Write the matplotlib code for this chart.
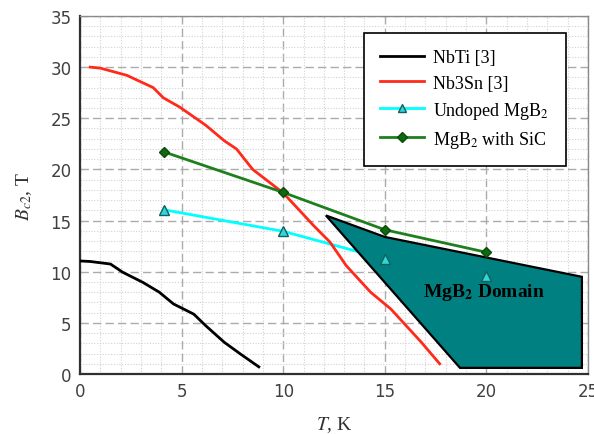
import matplotlib
matplotlib.use("Agg")
import matplotlib.pyplot as plt
from matplotlib.patches import Polygon
from matplotlib.ticker import MultipleLocator

plt.rcParams['mathtext.fontset'] = 'stix'

# NbTi [3]
nbti_t = [0, 0.5, 1.5, 2.1, 3.1, 3.9, 4.6, 5.6, 6.2, 7.1, 7.9, 8.8]
nbti_b = [11.05, 11.0, 10.75, 9.95, 8.95, 8.0, 6.85, 5.85, 4.7, 3.1, 1.95, 0.7]

# Nb3Sn [3]
nb3sn_t = [0.5, 1.0, 2.3, 3.6, 4.1, 4.9, 6.2, 7.1, 7.7, 8.5, 10.0, 10.8,
           11.5, 12.3, 13.1, 14.3, 15.3, 15.9, 16.8, 17.7]
nb3sn_b = [30.0, 29.9, 29.2, 28.0, 27.0, 26.1, 24.3, 22.8, 22.0, 20.0, 17.7, 16.0,
           14.5, 12.9, 10.6, 8.0, 6.35, 5.05, 3.1, 1.0]

# Undoped MgB2
undoped_t = [4.15, 10.0, 15.0, 20.0]
undoped_b = [16.05, 13.95, 11.25, 9.6]

# MgB2 with SiC
sic_t = [4.15, 10.0, 15.0, 20.0]
sic_b = [21.7, 17.75, 14.1, 11.9]

# MgB2 domain outline
domain_t = [12.1, 15.0, 24.7, 24.7, 18.7]
domain_b = [15.5, 13.4, 9.5, 0.6, 0.6]

fig = plt.figure(figsize=(5.94, 4.35), dpi=100)
ax = fig.add_axes([0.1347, 0.1379, 0.8552, 0.8231])

ax.set_xlim(0, 25)
ax.set_ylim(0, 35)
ax.xaxis.set_major_locator(MultipleLocator(5))
ax.yaxis.set_major_locator(MultipleLocator(5))
ax.xaxis.set_minor_locator(MultipleLocator(1))
ax.yaxis.set_minor_locator(MultipleLocator(1))
ax.grid(which='minor', color='#d2d2d2', linestyle=(0, (1, 1.5)), linewidth=0.8)
ax.grid(which='major', color='#ababab', linestyle=(0, (6, 3)), linewidth=1.0)
ax.set_axisbelow(True)
ax.tick_params(which='both', length=0, labelsize=12, labelcolor='#404040', pad=6)

for side in ['left', 'bottom']:
    ax.spines[side].set_color('#303030')
    ax.spines[side].set_linewidth(1.6)
for side in ['top', 'right']:
    ax.spines[side].set_color('#8a8a8a')
    ax.spines[side].set_linewidth(1.0)

lw = 2.0
ax.plot(nbti_t, nbti_b, color='black', lw=lw, label='NbTi [3]', zorder=3)
ax.plot(nb3sn_t, nb3sn_b, color='#ff2a1a', lw=lw, label='Nb3Sn [3]', zorder=3)
ax.plot(undoped_t, undoped_b, color='#00ffff', lw=lw, zorder=2)
ax.plot(sic_t, sic_b, color='#1f7f1f', lw=lw, marker='D', ms=5,
        mfc='#0f6a0f', mec='#0a4a0a', label='MgB$_2$ with SiC', zorder=5)

poly = Polygon(list(zip(domain_t, domain_b)), closed=True, facecolor='#008080',
               edgecolor='black', lw=1.6, zorder=4)
ax.add_patch(poly)

# triangle markers stay visible on top of the domain
ax.plot(undoped_t, undoped_b, color='#00ffff', lw=lw, marker='^', ms=7,
        mfc='#33d6d6', mec='#106060', linestyle='none', zorder=6)
undoped_handle, = ax.plot([], [], color='#00ffff', lw=lw, marker='^', ms=6,
                          mfc='#33d6d6', mec='#106060', label='Undoped MgB$_2$')

ax.text(19.9, 8.1, 'MgB$_\\mathbf{2}$ Domain', fontsize=14, fontweight='bold',
        family='Liberation Serif', ha='center', va='center', zorder=7)

handles, labels = ax.get_legend_handles_labels()
order = [labels.index(l) for l in ['NbTi [3]', 'Nb3Sn [3]', 'Undoped MgB$_2$', 'MgB$_2$ with SiC']]
leg = ax.legend([handles[i] for i in order], [labels[i] for i in order],
                loc='upper left', bbox_to_anchor=(0.559, 0.952),
                prop={'family': 'Liberation Serif', 'size': 13},
                fancybox=False, framealpha=1, edgecolor='black',
                handlelength=2.4, handletextpad=0.55, labelspacing=0.45,
                borderpad=0.9, borderaxespad=0)
leg.get_frame().set_linewidth(1.2)
leg.set_zorder(10)

ax.set_ylabel('$B_{c2}$, T', fontsize=14, family='Liberation Serif', color='#303030', labelpad=12)
ax.set_xlabel('$T$, K', fontsize=14, family='Liberation Serif', color='#303030', labelpad=10)

fig.savefig('out.png', dpi=100)
